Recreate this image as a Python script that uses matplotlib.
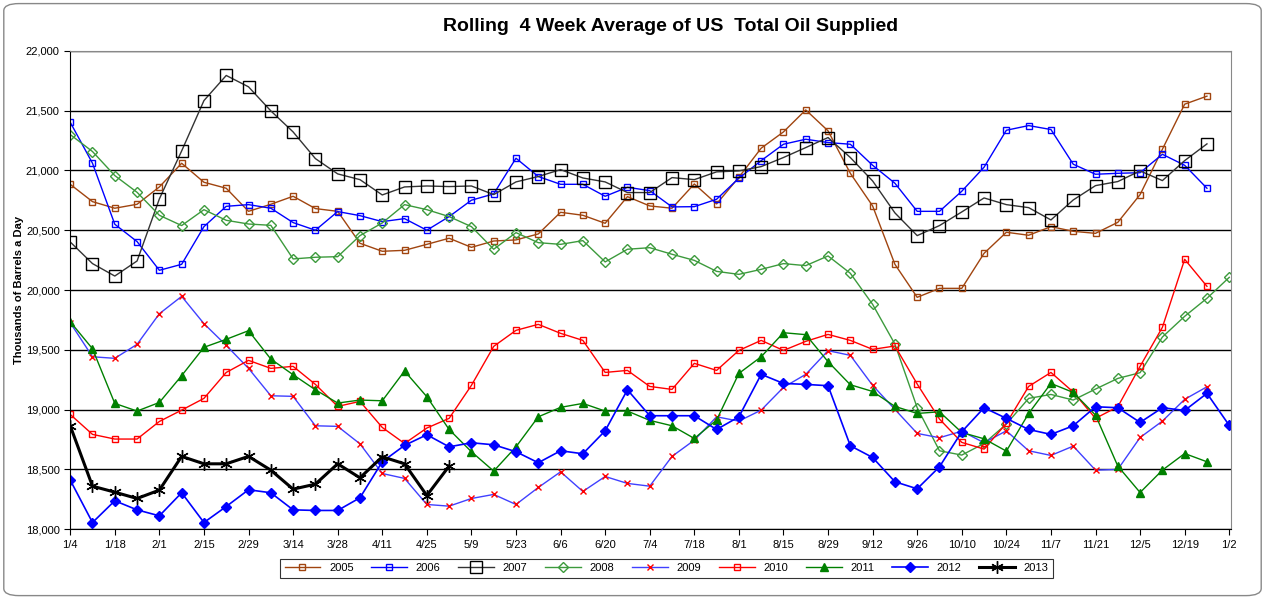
import numpy as np
import matplotlib.pyplot as plt
from matplotlib.patches import FancyBboxPatch

week_labels = ['1/4', '1/18', '2/1', '2/15', '2/29', '3/14', '3/28', '4/11', '4/25', '5/9',
               '5/23', '6/6', '6/20', '7/4', '7/18', '8/1', '8/15', '8/29', '9/12', '9/26',
               '10/10', '10/24', '11/7', '11/21', '12/5', '12/19', '1/2']

y2005 = [20884, 20739, 20684, 20717, 20862, 21060, 20901, 20851, 20658, 20717, 20784, 20681, 20658,
         20391, 20324, 20332, 20382, 20433, 20357, 20410, 20419, 20469, 20650, 20625, 20558, 20781,
         20703, 20684, 20887, 20720, 20943, 21186, 21322, 21506, 21331, 20976, 20703, 20215, 19939,
         20014, 20014, 20307, 20483, 20458, 20530, 20491, 20474, 20566, 20798, 21177, 21554, 21621]
y2006 = [21403, 21060, 20550, 20405, 20165, 20215, 20530, 20700, 20714, 20684, 20564, 20500, 20656,
         20622, 20572, 20597, 20500, 20614, 20751, 20804, 21102, 20949, 20884, 20884, 20784, 20859,
         20831, 20695, 20697, 20759, 20935, 21082, 21219, 21261, 21233, 21219, 21043, 20893, 20658,
         20658, 20826, 21027, 21336, 21375, 21342, 21052, 20968, 20976, 20981, 21135, 21043, 20851]
y2007 = [20402, 20221, 20117, 20243, 20762, 21163, 21584, 21794, 21699, 21498, 21322, 21099, 20971,
         20923, 20795, 20862, 20870, 20865, 20870, 20798, 20904, 20949, 21007, 20937, 20904, 20815,
         20815, 20940, 20923, 20988, 20996, 21032, 21108, 21191, 21275, 21108, 20912, 20645, 20455,
         20539, 20653, 20770, 20714, 20689, 20586, 20753, 20873, 20907, 20996, 20915, 21082, 21222]
y2008 = [21300, 21158, 20957, 20817, 20625, 20539, 20672, 20583, 20552, 20541, 20260, 20274, 20279,
         20455, 20561, 20714, 20672, 20614, 20530, 20341, 20480, 20396, 20382, 20413, 20235, 20341,
         20354, 20299, 20248, 20156, 20131, 20173, 20221, 20204, 20285, 20140, 19880, 19548, 19016,
         18656, 18620, 18717, 18879, 19094, 19127, 19080, 19172, 19261, 19309, 19607, 19780, 19931,
         20106]
y2009 = [19727, 19442, 19429, 19546, 19802, 19947, 19719, 19537, 19345, 19116, 19111, 18865, 18860,
         18714, 18466, 18425, 18207, 18193, 18257, 18291, 18207, 18349, 18480, 18316, 18441, 18383,
         18360, 18609, 18745, 18940, 18904, 18996, 19186, 19295, 19493, 19454, 19203, 19002, 18801,
         18765, 18820, 18723, 18823, 18656, 18617, 18695, 18494, 18500, 18767, 18904, 19086, 19191]
y2010 = [18960, 18793, 18754, 18754, 18901, 18996, 19094, 19311, 19412, 19345, 19362, 19211, 19027,
         19069, 18851, 18717, 18846, 18927, 19203, 19529, 19663, 19713, 19638, 19579, 19311, 19328,
         19194, 19169, 19387, 19328, 19495, 19579, 19495, 19571, 19629, 19579, 19504, 19532, 19214,
         18921, 18726, 18670, 18885, 19194, 19311, 19147, 18927, 19024, 19362, 19688, 20257, 20031]
y2011 = [19735, 19509, 19052, 18988, 19060, 19284, 19521, 19588, 19660, 19423, 19292, 19166, 19055,
         19080, 19074, 19323, 19108, 18834, 18648, 18486, 18689, 18940, 19019, 19052, 18988, 18988,
         18910, 18865, 18759, 18913, 19303, 19442, 19643, 19627, 19401, 19208, 19152, 19027, 18968,
         18982, 18809, 18756, 18653, 18968, 19219, 19144, 18954, 18528, 18307, 18494, 18633, 18564]
y2012 = [18411, 18056, 18238, 18162, 18112, 18305, 18056, 18190, 18330, 18305, 18162, 18157, 18157,
         18263, 18564, 18701, 18790, 18689, 18723, 18706, 18648, 18556, 18656, 18631, 18823, 19166,
         18949, 18949, 18949, 18834, 18940, 19295, 19219, 19211, 19200, 18698, 18600, 18397, 18338,
         18522, 18815, 19016, 18927, 18834, 18793, 18865, 19024, 19016, 18893, 19016, 18993, 19136,
         18868]
y2013 = [18865, 18360, 18310, 18257, 18327, 18609, 18547, 18547, 18609, 18494, 18335, 18377, 18547,
         18430, 18606, 18547, 18282, 18528]

series = [
    ('2005', y2005, dict(color='#A0440F', marker='s', ms=4, mfc='none', mec='#A0440F', lw=1)),
    ('2006', y2006, dict(color='#0000FF', marker='s', ms=4, mfc='none', mec='#0000FF', lw=1)),
    ('2007', y2007, dict(color='#333333', marker='s', ms=8, mfc='none', mec='black', lw=1)),
    ('2008', y2008, dict(color='#3C9A3C', marker='D', ms=5, mfc='none', mec='#3C9A3C', lw=1)),
    ('2009', y2009, dict(color='#4040FF', marker='x', ms=4, mec='red', lw=1)),
    ('2010', y2010, dict(color='#FF0000', marker='s', ms=4, mfc='none', mec='#FF0000', lw=1)),
    ('2011', y2011, dict(color='#008000', marker='^', ms=6, mfc='#008000', mec='#008000', lw=1)),
    ('2012', y2012, dict(color='#0000FF', marker='D', ms=5, mfc='#0000FF', mec='#0000FF', lw=1.2)),
    ('2013', y2013, dict(color='black', marker=(6, 2, 0), ms=9, mec='black', lw=2.2)),
]

fig = plt.figure(figsize=(12.65, 5.98), dpi=100)
fig.patches.append(FancyBboxPatch((0.003, 0.004), 0.994, 0.99, boxstyle='round,pad=0,rounding_size=0.012',
                                  transform=fig.transFigure, fill=False, ec='#888888', lw=1))
ax = fig.add_axes([0.0555, 0.115, 0.918, 0.8])

for name, vals, style in series:
    ax.plot(np.arange(len(vals)), vals, label=name, **style)

ax.set_xlim(0, 52.1)
ax.set_ylim(18000, 22000)
ax.set_xticks(np.arange(0, 53, 2))
ax.set_xticklabels(week_labels, fontsize=8, family='Liberation Sans')
ax.set_yticks(np.arange(18000, 22001, 500))
ax.set_yticklabels([f'{v:,}' for v in range(18000, 22001, 500)], fontsize=8, family='Liberation Sans')
ax.tick_params(axis='both', direction='out', length=4, width=0.8)
ax.yaxis.grid(True, color='black', lw=1)
ax.set_axisbelow(True)
for side in ['top', 'right']:
    ax.spines[side].set_color('#888888')
ax.set_ylabel('Thousands of Barrels a Day', fontsize=8, fontweight='bold', family='Liberation Sans')
ax.yaxis.set_label_coords(-0.04, 0.5)
fig.text(0.53, 0.955, 'Rolling  4 Week Average of US  Total Oil Supplied', ha='center', va='center',
         fontsize=14, fontweight='bold', family='Liberation Sans')

leg = fig.legend(loc='center', bbox_to_anchor=(0.527, 0.05), ncol=9, fontsize=8, frameon=True,
                 fancybox=False, edgecolor='black', handlelength=3.2, columnspacing=1.6,
                 prop={'family': 'Liberation Sans', 'size': 8})
leg.get_frame().set_linewidth(0.8)

fig.savefig('out.png', dpi=100)
